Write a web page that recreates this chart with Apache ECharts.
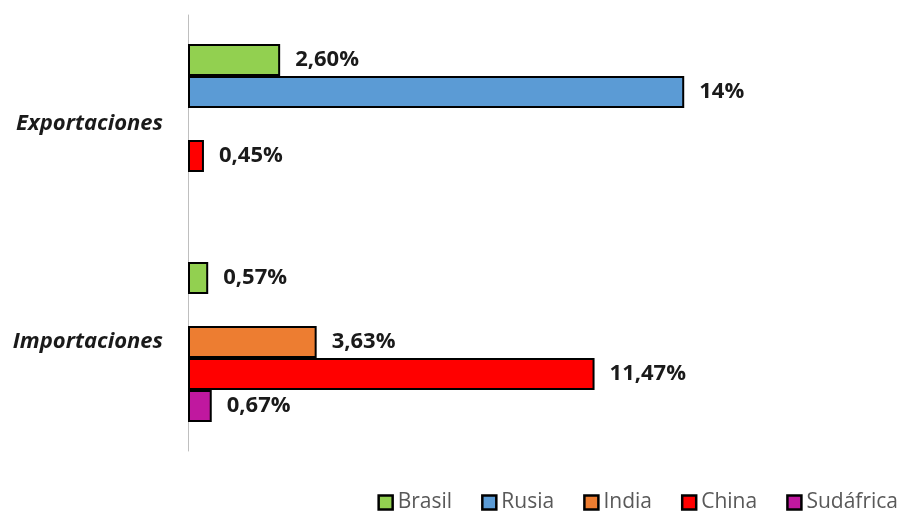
<!DOCTYPE html>
<html>
<head>
<meta charset="utf-8">
<script src="https://cdn.jsdelivr.net/npm/echarts@6/dist/echarts.min.js"></script>
<style>html,body{margin:0;padding:0;background:#fff}#c{width:901px;height:516px}</style>
</head>
<body>
<div id="c"></div>
<script>
const categories = ['Exportaciones', 'Importaciones'];
const seriesNames = ['Brasil', 'Rusia', 'India', 'China', 'Sudáfrica'];
const brasil = [2.60, 0.57];
const rusia = [14, null];
const india = [null, 3.63];
const china = [0.45, 11.47];
const sudafrica = [null, 0.67];
const brasilLabels = ['2,60%', '0,57%'];
const rusiaLabels = ['14%', ''];
const indiaLabels = ['', '3,63%'];
const chinaLabels = ['0,45%', '11,47%'];
const sudafricaLabels = ['', '0,67%'];
const colors = ['#92D050', '#5B9BD5', '#ED7D31', '#FF0000', '#C0189F'];

const values = [brasil, rusia, india, china, sudafrica];
const labels = [brasilLabels, rusiaLabels, indiaLabels, chinaLabels, sudafricaLabels];

const chart = echarts.init(document.getElementById('c'));
chart.setOption({
  animation: false,
  grid: { left: 188, top: 15, width: 638, height: 436, containLabel: false },
  legend: {
    bottom: -2, right: 0, padding: [5, 3, 5, 5], itemWidth: 14, itemHeight: 14, itemGap: 29,
    icon: 'rect',
    itemStyle: { borderColor: '#000', borderWidth: 2.5 },
    textStyle: { fontFamily: 'Open Sans', fontSize: 21, color: '#595959', padding: [0, 0, 0, 0] },
    data: seriesNames
  },
  xAxis: { type: 'value', min: 0, max: 18, show: false },
  yAxis: {
    type: 'category', data: categories, inverse: true,
    axisLine: { show: true, lineStyle: { color: '#BFBFBF', width: 1 } },
    axisTick: { show: false },
    axisLabel: { margin: 25, fontFamily: 'Open Sans', fontSize: 22, fontWeight: 'bold', fontStyle: 'italic', color: '#1a1a1a' }
  },
  series: seriesNames.map((name, i) => ({
    name, type: 'bar', barGap: '0%', barCategoryGap: '26.6%',
    itemStyle: { color: colors[i], borderColor: '#000', borderWidth: 2 },
    label: {
      show: true, position: 'right', distance: 15,
      fontFamily: 'Open Sans', fontSize: 22, fontWeight: 'bold', color: '#1a1a1a',
      formatter: p => labels[i][p.dataIndex]
    },
    data: values[i]
  }))
});
</script>
</body>
</html>
